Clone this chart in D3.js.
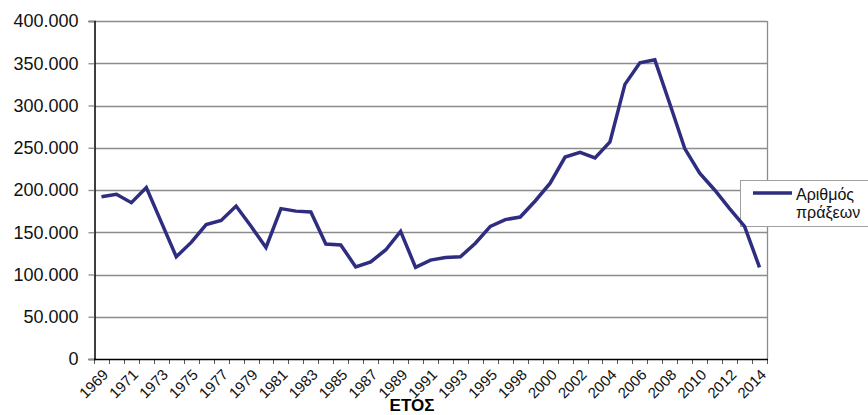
<!DOCTYPE html>
<html>
<head>
<meta charset="utf-8">
<script src="https://cdn.jsdelivr.net/npm/d3@7"></script>
<style>
  body { margin: 0; background: #fff; }
  svg { display: block; font-family: Arial, "Liberation Sans", sans-serif; }
</style>
</head>
<body>
<div id="vis"></div>
<script>
const FRAME_WIDTH = 868;
const FRAME_HEIGHT = 415;
const MARGINS = {left: 94, right: 101, top: 21, bottom: 56};

const VIS_WIDTH = FRAME_WIDTH - MARGINS.left - MARGINS.right;
const VIS_HEIGHT = FRAME_HEIGHT - MARGINS.top - MARGINS.bottom;

// data
const years = ["1969", "1970", "1971", "1972", "1973", "1974", "1975", "1976", "1977", "1978",
               "1979", "1980", "1981", "1982", "1983", "1984", "1985", "1986", "1987", "1988",
               "1989", "1990", "1991", "1992", "1993", "1994", "1995", "1997", "1998", "1999",
               "2000", "2001", "2002", "2003", "2004", "2005", "2006", "2007", "2008", "2009",
               "2010", "2011", "2012", "2013", "2014"];
const praxeis = [192000, 195000, 185000, 203000, 162000, 121000, 138000, 159000, 164000, 181000,
                 157000, 132000, 178000, 175000, 174000, 136000, 135000, 109000, 115000, 129000,
                 151000, 108500, 117000, 120000, 121000, 137000, 157000, 165000, 168000, 187000,
                 208000, 239000, 244500, 238000, 257000, 325000, 350500, 354000, 302000, 249000,
                 220000, 200000, 178000, 157000, 108500];
const yTicks = [0, 50000, 100000, 150000, 200000, 250000, 300000, 350000, 400000];
const seriesName = ["Αριθμός", "πράξεων"];
const xTitle = "ΕΤΟΣ";

const LINE_COLOR = "#2e2d7f";

const greek = d3.formatLocale({decimal: ",", thousands: ".", grouping: [3], currency: ["", "€"]});
const fmt = greek.format(",");

const X_SCALE = d3.scaleBand()
                  .domain(years)
                  .range([MARGINS.left, MARGINS.left + VIS_WIDTH]);

const Y_SCALE = d3.scaleLinear()
                  .domain([0, 400000])
                  .range([MARGINS.top + VIS_HEIGHT, MARGINS.top]);

const SVG = d3.select("#vis")
              .append("svg")
                .attr("width", FRAME_WIDTH)
                .attr("height", FRAME_HEIGHT);

// horizontal gridlines
SVG.append("g")
   .selectAll("line")
   .data(yTicks.filter(d => d > 0))
   .enter()
   .append("line")
     .attr("x1", MARGINS.left)
     .attr("x2", MARGINS.left + VIS_WIDTH)
     .attr("y1", d => Math.round(Y_SCALE(d)) + 0.5)
     .attr("y2", d => Math.round(Y_SCALE(d)) + 0.5)
     .attr("stroke", "#8c8c8c")
     .attr("stroke-width", 1.3);

// right border of plot area
SVG.append("line")
   .attr("x1", MARGINS.left + VIS_WIDTH + 0.5)
   .attr("x2", MARGINS.left + VIS_WIDTH + 0.5)
   .attr("y1", MARGINS.top)
   .attr("y2", MARGINS.top + VIS_HEIGHT)
   .attr("stroke", "#8c8c8c")
   .attr("stroke-width", 1.3);

// y axis
const yAxis = SVG.append("g")
   .attr("transform", "translate(" + (MARGINS.left + 0.5) + ",0)")
   .call(d3.axisLeft(Y_SCALE).tickValues(yTicks).tickFormat(fmt).tickSize(6).tickPadding(10));
yAxis.select(".domain").attr("stroke", "#000").attr("stroke-width", 1.5);
yAxis.selectAll(".tick line").attr("stroke", "#8c8c8c").attr("stroke-width", 1.3);
yAxis.selectAll("text")
     .attr("font-size", "18px")
     .attr("fill", "#111");

// x axis: ticks between categories, labels on every second year
const xBase = MARGINS.top + VIS_HEIGHT;
const bounds = years.map(d => X_SCALE(d)).concat([X_SCALE.range()[1]]);
SVG.append("g")
   .selectAll("line")
   .data(bounds)
   .enter()
   .append("line")
     .attr("x1", d => Math.round(d) + 0.5)
     .attr("x2", d => Math.round(d) + 0.5)
     .attr("y1", xBase)
     .attr("y2", xBase + 5)
     .attr("stroke", "#555")
     .attr("stroke-width", 1);

SVG.append("line")
   .attr("x1", MARGINS.left)
   .attr("x2", MARGINS.left + VIS_WIDTH + 1)
   .attr("y1", xBase + 0.5)
   .attr("y2", xBase + 0.5)
   .attr("stroke", "#000")
   .attr("stroke-width", 1.5);

SVG.append("g")
   .selectAll("text")
   .data(years.filter((d, i) => i % 2 === 0))
   .enter()
   .append("text")
     .attr("transform", d => "translate(" + (X_SCALE(d) + X_SCALE.bandwidth() / 2 + 4) + "," + (xBase + 13) + ") rotate(-45)")
     .attr("text-anchor", "end")
     .attr("dy", "0.35em")
     .attr("font-size", "15px")
     .attr("fill", "#111")
     .text(d => d);

SVG.append("text")
   .attr("x", 412)
   .attr("y", 411)
   .attr("text-anchor", "middle")
   .attr("font-size", "17px")
   .attr("font-weight", "bold")
   .attr("fill", "#000")
   .text(xTitle);

// legend box
const LEG = SVG.append("g").attr("transform", "translate(740,180)");
LEG.append("rect")
   .attr("x", 0.5).attr("y", 0.5)
   .attr("width", 140).attr("height", 46)
   .attr("fill", "#fff")
   .attr("stroke", "#a0a0a0");
LEG.append("line")
   .attr("x1", 13).attr("x2", 52)
   .attr("y1", 13).attr("y2", 13)
   .attr("stroke", LINE_COLOR)
   .attr("stroke-width", 3.5);
LEG.selectAll("text.leg")
   .data(seriesName)
   .enter()
   .append("text")
     .attr("class", "leg")
     .attr("x", 56)
     .attr("y", (d, i) => 20 + i * 18)
     .attr("font-size", "16px")
     .attr("fill", "#111")
     .text(d => d);

// the series line
const line = d3.line()
               .x((d, i) => X_SCALE(years[i]) + X_SCALE.bandwidth() / 2)
               .y(d => Y_SCALE(d));

SVG.append("path")
   .datum(praxeis)
   .attr("d", line)
   .attr("fill", "none")
   .attr("stroke", LINE_COLOR)
   .attr("stroke-width", 3.5)
   .attr("stroke-linejoin", "miter");
</script>
</body>
</html>
